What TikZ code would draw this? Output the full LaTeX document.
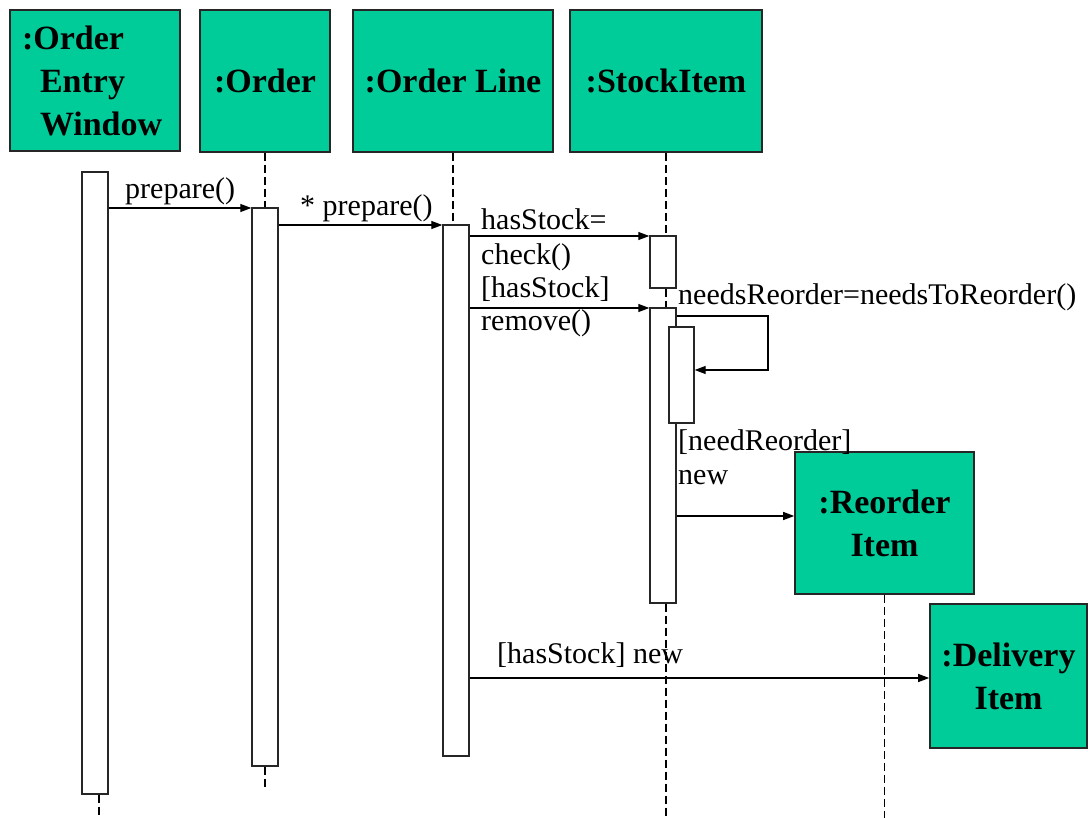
\documentclass[tikz,border=0pt]{standalone}
\usepackage{fontspec}
\setmainfont{Liberation Serif}
\usetikzlibrary{arrows.meta}
\definecolor{objfill}{HTML}{00CC99}
\begin{document}
\begin{tikzpicture}[x=1pt,y=-1pt,
  obj/.style={draw=black!85, line width=1.6pt, fill=objfill, inner sep=0pt,
    font=\fontsize{34}{43}\selectfont\bfseries, align=center},
  act/.style={draw=black!85, line width=1.4pt, fill=white, minimum width=26pt, inner sep=0pt},
  life/.style={line width=1.3pt, dash pattern=on 8pt off 4pt},
  msg/.style={line width=1.3pt, -{Triangle[length=11pt,width=8pt]}},
  lbl/.style={font=\fontsize{30}{34}\selectfont, inner sep=0pt, anchor=base west},
]
\useasboundingbox (0,0) rectangle (1088,818);
\coordinate (bot) at (0,818);

% object heads
\node[obj, minimum width=170pt, minimum height=141pt, text width=146pt, align=left]
  (o1) at (95,80.5) {:Order\\\hspace*{18pt}Entry\\\hspace*{18pt}Window};
\node[obj, minimum width=130pt, minimum height=142pt] (o2) at (265,81) {:Order};
\node[obj, minimum width=200pt, minimum height=142pt] (o3) at (453,81) {:Order Line};
\node[obj, minimum width=192pt, minimum height=142pt] (o4) at (666,81) {:StockItem};

% activations
\node[act, minimum height=622pt] (a1) at (95,483) {};
\node[act, minimum height=558pt] (a2) at (265,487) {};
\node[act, minimum height=531pt] (a3) at (456,490.5) {};
\node[act, minimum height=52pt]  (a4) at (663,262) {};
\node[act, minimum height=295pt] (a5) at (663,455.5) {};
\node[act, minimum width=25pt, minimum height=96pt] (a6) at (681.5,375) {};

% created objects
\node[obj, minimum width=179pt, minimum height=142pt] (o5) at (884.5,523) {:Reorder\\Item};
\node[obj, minimum width=157pt, minimum height=144pt] (o6) at (1008.5,676) {:Delivery\\Item};

% lifelines
\draw[life] (a1.south -| 99,0) -- (99,818);
\draw[life] (o2.south) -- (a2.north);
\draw[life] (a2.south) -- ++(0,22);
\draw[life] (o3.south) -- (o3.south |- a3.north);
\draw[life] (o4.south) -- (o4.south |- a4.north);
\draw[life] (o4.south |- a4.south) -- (o4.south |- a5.north);
\draw[life] (o4.south |- a5.south) -- (o4.south |- bot);
\draw[life] (o5.south) -- (o5.south |- bot);

% messages
\draw[msg] (a1.east |- 0,208) -- (a2.west |- 0,208);
\draw[msg] (a2.east |- 0,225) -- (a3.west |- 0,225);
\draw[msg] (a3.east |- 0,236) -- (a4.west |- 0,236);
\draw[msg] (a3.east |- 0,308) -- (a5.west |- 0,308);
\draw[msg] (a5.east |- 0,316) -- (768,316) -- (768,370) -- (a6.east |- 0,370);
\draw[msg] (a5.east |- 0,516) -- (o5.west |- 0,516);
\draw[msg] (a3.east |- 0,678) -- (o6.west |- 0,678);

% message labels
\node[lbl] (t1) at (125,199) {prepare()};
\node[lbl] (t2) at (300,216) {* prepare()};
\node[lbl] (t3) at (481,230) {hasStock=};
\node[lbl] (t4) at (481,265) {check()};
\node[lbl] (t5) at (481,298) {[hasStock]};
\node[lbl] (t6) at (481,331) {remove()};
\node[lbl] (t7) at (678,305) {needsReorder=needsToReorder()};
\node[lbl] (t8) at (678,450) {[needReorder]};
\node[lbl] (t9) at (678,484) {new};
\node[lbl] (t10) at (497,663) {[hasStock] new};
\end{tikzpicture}
\end{document}
